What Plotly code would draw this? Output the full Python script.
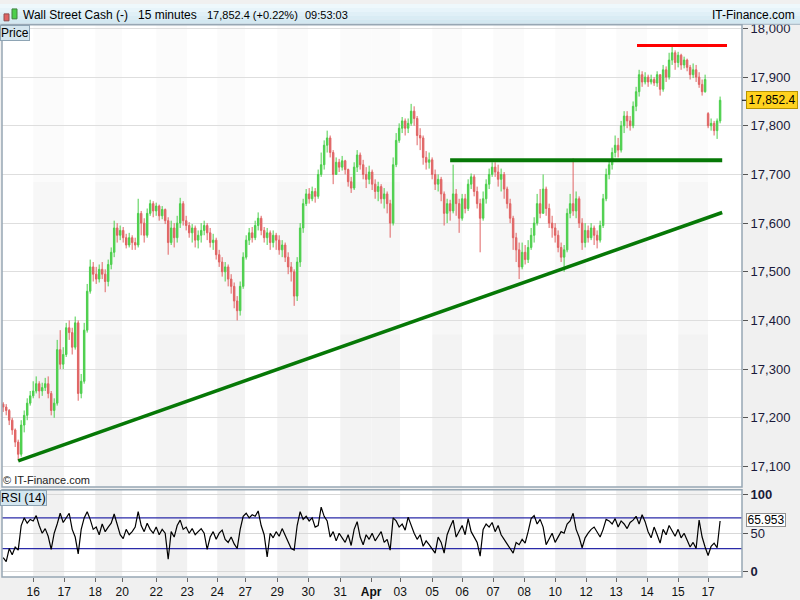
import plotly.graph_objects as go

# ---------------- data (15-minute bars) ----------------
first_open = 17228
session_opens = {235: 17825}   # price gap at the open of the 17th

closes = [
    17222, 17215, 17195, 17175, 17150, 17125, 17185, 17205, 17230, 17245,
    17255, 17270, 17255, 17262, 17270, 17250, 17215, 17230, 17340, 17310,
    17330, 17385, 17375, 17345, 17395, 17250, 17275, 17380, 17460, 17510,
    17495, 17485, 17505, 17495, 17480, 17515, 17540, 17590, 17575, 17585,
    17570, 17555, 17570, 17560, 17555, 17620, 17600, 17575, 17620, 17640,
    17625, 17635, 17615, 17628, 17605, 17560, 17590, 17570, 17600, 17640,
    17605, 17595, 17580, 17590, 17565, 17575, 17585, 17595, 17580, 17560,
    17565, 17535, 17520, 17500, 17510, 17485, 17470, 17440, 17420, 17470,
    17530, 17565, 17580, 17570, 17595, 17610, 17585, 17570, 17580, 17560,
    17575, 17565, 17545, 17555, 17530, 17510, 17500, 17450, 17520, 17590,
    17640, 17660, 17650, 17665, 17655, 17700, 17720, 17760, 17775, 17745,
    17700, 17725, 17715, 17728, 17710, 17685, 17672, 17715, 17740, 17720,
    17700, 17690, 17705, 17680, 17665, 17675, 17650, 17660, 17640, 17600,
    17720, 17770, 17795, 17810, 17795, 17805, 17830, 17815, 17780, 17775,
    17735, 17725, 17730, 17700, 17680, 17690, 17660, 17620, 17640, 17625,
    17660, 17640, 17610, 17650, 17630, 17680, 17695, 17665, 17640, 17610,
    17650, 17680, 17700, 17715, 17705, 17690, 17700, 17670, 17640, 17610,
    17570, 17545, 17510, 17540, 17525, 17550, 17575, 17600, 17640, 17620,
    17670, 17630, 17600, 17590, 17575, 17550, 17530, 17545, 17620, 17640,
    17625, 17650, 17600, 17560, 17585, 17570, 17590, 17575, 17565, 17595,
    17650, 17700, 17720, 17745, 17760, 17750, 17800, 17820, 17810, 17800,
    17840, 17870, 17905, 17890, 17900, 17890, 17895, 17888, 17905, 17875,
    17915, 17900, 17935, 17950, 17930, 17945, 17925, 17935, 17920, 17905,
    17915, 17900, 17885, 17870, 17895, 17800, 17805, 17790, 17810, 17852.4,
]

highs = [
    17232, 17228, 17218, 17200, 17178, 17155, 17195, 17215, 17240, 17255,
    17275, 17285, 17275, 17272, 17282, 17285, 17255, 17240, 17360, 17380,
    17345, 17395, 17400, 17385, 17408, 17400, 17290, 17395, 17475, 17525,
    17520, 17510, 17515, 17520, 17505, 17525, 17550, 17605, 17600, 17595,
    17592, 17578, 17580, 17575, 17570, 17650, 17625, 17610, 17630, 17648,
    17645, 17642, 17638, 17635, 17630, 17612, 17605, 17600, 17615, 17652,
    17645, 17615, 17602, 17598, 17595, 17585, 17600, 17605, 17600, 17590,
    17578, 17570, 17545, 17530, 17520, 17515, 17495, 17478, 17450, 17480,
    17540, 17575, 17590, 17592, 17605, 17622, 17615, 17592, 17590, 17585,
    17585, 17580, 17575, 17565, 17560, 17540, 17520, 17505, 17530, 17600,
    17650, 17670, 17672, 17675, 17672, 17710, 17745, 17770, 17790, 17780,
    17750, 17735, 17732, 17738, 17730, 17712, 17695, 17725, 17750, 17745,
    17730, 17715, 17718, 17710, 17690, 17685, 17680, 17672, 17665, 17648,
    17735, 17785, 17805, 17818, 17815, 17815, 17845, 17840, 17820, 17795,
    17780, 17748, 17745, 17735, 17710, 17700, 17695, 17665, 17650, 17648,
    17720, 17670, 17650, 17660, 17660, 17690, 17702, 17700, 17675, 17650,
    17665, 17690, 17712, 17725, 17725, 17720, 17712, 17705, 17675, 17650,
    17615, 17580, 17560, 17560, 17555, 17565, 17590, 17612, 17660, 17670,
    17700, 17675, 17640, 17615, 17600, 17585, 17560, 17555, 17630, 17660,
    17733, 17665, 17655, 17610, 17600, 17595, 17600, 17595, 17585, 17605,
    17660, 17712, 17730, 17755, 17780, 17775, 17810, 17830, 17830, 17820,
    17850, 17880, 17915, 17912, 17910, 17905, 17905, 17900, 17912, 17905,
    17925, 17922, 17950, 17962, 17955, 17952, 17948, 17942, 17938, 17925,
    17928, 17925, 17910, 17895, 17905, 17828, 17815, 17810, 17815, 17860,
]

lows = [
    17212, 17205, 17185, 17165, 17140, 17112, 17120, 17170, 17195, 17225,
    17240, 17250, 17240, 17245, 17255, 17240, 17205, 17200, 17225, 17300,
    17300, 17325, 17360, 17330, 17340, 17235, 17240, 17270, 17375, 17455,
    17480, 17475, 17478, 17485, 17458, 17470, 17505, 17530, 17560, 17565,
    17560, 17548, 17550, 17545, 17545, 17550, 17575, 17560, 17570, 17615,
    17612, 17615, 17605, 17608, 17598, 17535, 17555, 17550, 17560, 17590,
    17595, 17585, 17570, 17560, 17550, 17548, 17560, 17575, 17565, 17550,
    17545, 17525, 17510, 17490, 17480, 17470, 17455, 17425, 17400, 17410,
    17465, 17525, 17555, 17560, 17565, 17585, 17575, 17560, 17555, 17545,
    17550, 17545, 17535, 17530, 17520, 17495, 17480, 17430, 17440, 17510,
    17580, 17635, 17640, 17645, 17642, 17650, 17695, 17710, 17745, 17735,
    17680, 17700, 17705, 17708, 17700, 17675, 17662, 17668, 17705, 17710,
    17690, 17672, 17680, 17668, 17650, 17645, 17640, 17630, 17620, 17570,
    17595, 17715, 17765, 17785, 17780, 17785, 17800, 17800, 17760, 17750,
    17720, 17710, 17712, 17690, 17668, 17665, 17645, 17595, 17600, 17605,
    17620, 17615, 17580, 17605, 17620, 17625, 17670, 17655, 17630, 17540,
    17605, 17640, 17670, 17695, 17695, 17675, 17665, 17650, 17630, 17600,
    17545, 17520, 17485, 17505, 17515, 17518, 17545, 17560, 17595, 17610,
    17620, 17615, 17590, 17570, 17560, 17540, 17520, 17500, 17540, 17610,
    17615, 17610, 17590, 17545, 17550, 17560, 17565, 17555, 17548, 17560,
    17590, 17645, 17690, 17710, 17735, 17735, 17745, 17785, 17795, 17790,
    17795, 17830, 17860, 17880, 17885, 17880, 17885, 17882, 17880, 17862,
    17870, 17890, 17895, 17925, 17915, 17920, 17915, 17918, 17912, 17895,
    17898, 17890, 17878, 17862, 17868, 17795, 17790, 17780, 17773, 17805,
]

rsi = [
    18, 13, 30, 22, 32, 28, 60, 70, 63, 68,
    66, 73, 60, 50, 56, 46, 29, 50, 62, 76,
    64, 70, 76, 55, 45, 23, 55, 70, 78, 68,
    55, 58, 48, 62, 52, 58, 63, 75, 62, 48,
    43, 55, 48, 52, 58, 78, 60, 52, 63, 55,
    50, 58, 48, 55, 50, 16, 52, 45, 60, 67,
    55, 58, 50, 56, 48, 52, 56, 50, 29, 45,
    52, 42, 50, 54, 42, 38, 45, 36, 30, 55,
    72, 76, 70, 74, 72, 79, 60, 48, 19, 50,
    44, 52, 46, 56, 48, 40, 30, 28, 60, 78,
    68, 72, 66, 70, 58, 60, 84, 72, 66, 45,
    52, 40, 50, 44, 38, 48, 34, 55, 65, 45,
    35, 48, 42, 50, 40, 46, 52, 38, 42, 28,
    70, 66, 58, 62, 54, 71, 60, 50, 42, 48,
    33, 40, 35, 30, 24, 45, 38, 24, 48, 58,
    67, 45, 52, 60, 48, 69, 52, 44, 38, 20,
    55, 62, 58, 64, 52, 60, 48, 42, 36, 30,
    24, 38, 35, 42, 37, 52, 69, 73, 62, 68,
    58, 35, 42, 50, 38, 45, 52, 50, 62, 66,
    76, 55, 45, 31, 44, 50, 55, 58, 52, 45,
    55, 68, 66, 62, 69, 58, 66, 62, 56, 64,
    67, 72, 62, 74, 65, 52, 44, 58, 48, 37,
    55, 48, 60, 53, 46, 55, 44, 50, 42, 32,
    38, 30, 67, 45, 32, 21, 33, 37, 31, 65.953,
]

day_labels = ["16", "17", "18", "20", "22", "23", "24", "27", "29", "30", "31", "Apr",
              "03", "05", "06", "07", "08", "10", "12", "13", "14", "15", "17"]
day_start_bar = [10, 20.33, 30.67, 39.67, 51, 61.33, 71.33, 80.67, 91.33, 101.67, 112.33,
                 122.67, 132.33, 143, 153, 163.33, 173.67, 184, 194.33, 204.33, 214.67, 225, 235]
shaded_days = ["16", "18", "22", "24", "29", "31", "Apr", "05", "07", "10", "13", "15"]

# drawn trend lines (bar index, price)
support_x, support_y = [5, 239.7], [17111.6, 17621.8]
resist_x, resist_y = [149, 239.7], [17729, 17729]
top_x, top_y = [211.3, 241.3], [17964.7, 17964.7]

price_ticks = [17100, 17200, 17300, 17400, 17500, 17600, 17700, 17800, 17900, 18000]
rsi_ticks = [0, 50, 100]
rsi_levels = [70, 30]

# ---------------- figure ----------------
W, H = 800, 600
FONT = "Liberation Sans, Arial, sans-serif"
GREEN = "#4ccf4c"
RED = "#e06464"
X_END = 246.3


def px(v):
    return v / W


def py(v):
    return 1 - v / H


bars = list(range(len(closes)))
opens = [first_open] + closes[:-1]
for k, v in session_opens.items():
    opens[k] = v

fig = go.Figure()
fig.add_trace(go.Candlestick(
    x=bars, open=opens, high=highs, low=lows, close=closes,
    increasing=dict(line=dict(color=GREEN, width=1), fillcolor=GREEN),
    decreasing=dict(line=dict(color=RED, width=1), fillcolor=RED),
    whiskerwidth=0, xaxis="x2", yaxis="y", showlegend=False, hoverinfo="skip"))
fig.add_trace(go.Scatter(x=support_x, y=support_y, mode="lines",
                         line=dict(color="#067806", width=3.5),
                         xaxis="x2", yaxis="y", showlegend=False, hoverinfo="skip"))
fig.add_trace(go.Scatter(x=resist_x, y=resist_y, mode="lines",
                         line=dict(color="#067806", width=4),
                         xaxis="x2", yaxis="y", showlegend=False, hoverinfo="skip"))
fig.add_trace(go.Scatter(x=top_x, y=top_y, mode="lines",
                         line=dict(color="#ff0000", width=3),
                         xaxis="x2", yaxis="y", showlegend=False, hoverinfo="skip"))
fig.add_trace(go.Scatter(x=bars, y=rsi, mode="lines",
                         line=dict(color="#000000", width=1.2),
                         xaxis="x", yaxis="y2", showlegend=False, hoverinfo="skip"))

shapes = []
# title bar
stripe_cols = ["#eef8fc", "#e7f4fa", "#e0f0f7", "#d9ecf4", "#d3e8f1"]
for k, c in enumerate(stripe_cols):
    shapes.append(dict(type="rect", xref="paper", yref="paper", x0=0, x1=1,
                       y0=py(4 * k + 4), y1=py(4 * k), fillcolor=c, line=dict(width=0)))
shapes.append(dict(type="line", xref="paper", yref="paper", x0=0, x1=1,
                   y0=py(20.5), y1=py(20.5), line=dict(color="#9fb2c0", width=1)))
# small candle icon
shapes.append(dict(type="rect", xref="paper", yref="paper", x0=px(4), x1=px(9),
                   y0=py(17), y1=py(10), fillcolor="#e06464", line=dict(color="#905050", width=1)))
shapes.append(dict(type="rect", xref="paper", yref="paper", x0=px(12), x1=px(17),
                   y0=py(15), y1=py(5), fillcolor="#4ccf4c", line=dict(color="#408040", width=1)))

# day bands
for lbl in shaded_days:
    k = day_labels.index(lbl)
    x0 = day_start_bar[k]
    x1 = day_start_bar[k + 1] if k + 1 < len(day_start_bar) else X_END
    for frac in (1.0, 0.66, 0.33):
        shapes.append(dict(type="rect", xref="x2", yref="y domain", x0=x0, x1=x1, y0=0, y1=frac,
                           fillcolor="rgba(0,0,0,0.017)", line=dict(width=0), layer="below"))
    shapes.append(dict(type="rect", xref="x", yref="y2 domain", x0=x0, x1=x1, y0=0, y1=1,
                       fillcolor="rgba(0,0,0,0.055)", line=dict(width=0), layer="below"))

# RSI levels
for lv in rsi_levels:
    shapes.append(dict(type="line", xref="x domain", yref="y2", x0=0, x1=1, y0=lv, y1=lv,
                       line=dict(color="#2a2aa8", width=1.2), layer="below"))

# panel borders
shapes.append(dict(type="rect", xref="x2 domain", yref="y domain", x0=0, x1=1, y0=0, y1=1,
                   line=dict(color="#97a7b4", width=1.5), layer="above"))
shapes.append(dict(type="rect", xref="x domain", yref="y2 domain", x0=0, x1=1, y0=0, y1=1,
                   line=dict(color="#97a7b4", width=1.5), layer="above"))
# current price tick
shapes.append(dict(type="line", xref="paper", yref="y", x0=px(742), x1=px(747),
                   y0=closes[-1], y1=closes[-1], line=dict(color="#000", width=1)))

annotations = []
title_parts = [("Wall Street Cash (-)", 21, 12), ("15 minutes", 136, 12),
               ("17,852.4 (+0.22%)", 205, 11), ("09:53:03", 303, 11)]
for t, x, fs in title_parts:
    annotations.append(dict(text=t, x=px(x), y=py(11), xref="paper", yref="paper",
                            xanchor="left", yanchor="middle", showarrow=False,
                            font=dict(family=FONT, size=fs, color="#000")))
annotations.append(dict(text="IT-Finance.com", x=px(797), y=py(11), xref="paper", yref="paper",
                        xanchor="right", yanchor="middle", showarrow=False,
                        font=dict(family=FONT, size=12, color="#000")))
annotations.append(dict(text="Price", x=px(0), y=py(21), xref="paper", yref="paper",
                        xanchor="left", yanchor="top", showarrow=False,
                        bgcolor="#d4e6ef", bordercolor="#8ea4b4", borderwidth=1, borderpad=0,
                        font=dict(family=FONT, size=12, color="#000")))
annotations.append(dict(text="RSI (14)", x=px(0), y=py(491), xref="paper", yref="paper",
                        xanchor="left", yanchor="top", showarrow=False,
                        bgcolor="#d4e6ef", bordercolor="#8ea4b4", borderwidth=1, borderpad=0,
                        font=dict(family=FONT, size=12, color="#000")))
annotations.append(dict(text="© IT-Finance.com", x=px(1), y=py(481), xref="paper", yref="paper",
                        xanchor="left", yanchor="middle", showarrow=False,
                        font=dict(family=FONT, size=11, color="#222")))
annotations.append(dict(text=f"{closes[-1]:,.1f}", x=px(746), y=closes[-1], xref="paper", yref="y",
                        xanchor="left", yanchor="middle", showarrow=False,
                        bgcolor="#ffd21e", bordercolor="#b89400", borderwidth=1, borderpad=1,
                        width=48, height=14,
                        font=dict(family=FONT, size=12, color="#000")))
annotations.append(dict(text=f"{rsi[-1]:.3f}", x=px(746), y=rsi[-1] + 1, xref="paper", yref="y2",
                        xanchor="left", yanchor="middle", showarrow=False,
                        bgcolor="#ffffff", bordercolor="#909090", borderwidth=1, borderpad=0,
                        width=38, height=12,
                        font=dict(family=FONT, size=12, color="#000")))

tick_text = [f"<b>{d}</b>" if d == "Apr" else d for d in day_labels]

fig.update_layout(
    width=W, height=H, margin=dict(l=0, r=0, t=0, b=0),
    paper_bgcolor="#f0f0f0", plot_bgcolor="#ffffff",
    font=dict(family=FONT, size=12, color="#111"),
    showlegend=False, hovermode=False,
    shapes=shapes, annotations=annotations,
    xaxis=dict(domain=[px(2), px(742)], range=[-0.4, X_END], anchor="y2",
               tickvals=day_start_bar, ticktext=tick_text, ticks="outside", ticklen=4,
               tickcolor="#666", tickfont=dict(family=FONT, size=12, color="#111"),
               showgrid=False, zeroline=False, showline=False,
               rangeslider=dict(visible=False)),
    xaxis2=dict(domain=[px(2), px(742)], matches="x", anchor="y", showticklabels=False,
                showgrid=False, zeroline=False, ticks="", rangeslider=dict(visible=False)),
    yaxis=dict(domain=[py(488), py(21)], range=[17057.5, 18007.5], side="right", anchor="x2",
               tickvals=price_ticks, tickformat=",d", ticks="outside", ticklen=5, tickcolor="#555",
               tickfont=dict(family=FONT, size=13, color="#1a1a3a"),
               gridcolor="#dedede", gridwidth=1, zeroline=False, showline=False),
    yaxis2=dict(domain=[py(578.7), py(490.7)], range=[-7, 106.6], side="right", anchor="x",
                tickvals=rsi_ticks, ticktext=["<b>0</b>", "50", "<b>100</b>"],
                ticks="outside", ticklen=5, tickcolor="#555",
                tickfont=dict(family=FONT, size=13, color="#1a1a3a"),
                gridcolor="#d8d8d8", gridwidth=1, zeroline=False, showline=False),
)

fig.write_html("out.html", config={"displayModeBar": False},
               post_script="document.body.style.margin='0';document.body.style.overflow='hidden';")
